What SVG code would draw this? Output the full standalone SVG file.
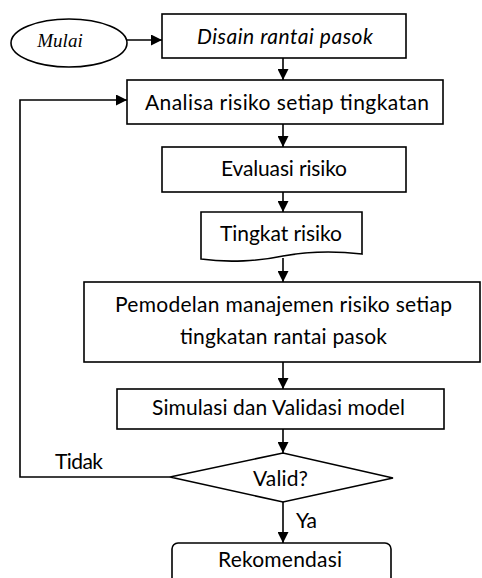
<svg xmlns="http://www.w3.org/2000/svg" width="482" height="578" viewBox="0 0 482 578">
<defs>
<marker id="ah" markerUnits="userSpaceOnUse" markerWidth="11" markerHeight="11" refX="11" refY="5.5" orient="auto">
<path d="M0,0 L11,5.5 L0,11 Z" fill="#000"/>
</marker>
<style>
.shape{fill:#fff;stroke:#000;stroke-width:1.6}
.conn{fill:none;stroke:#000;stroke-width:1.6}
.t{font-family:Lato,"Liberation Sans",sans-serif;font-size:21px;fill:#000;text-anchor:middle}
.it{font-style:italic}
.serif{font-family:"Liberation Serif",serif;font-style:italic;font-size:19px;fill:#000;text-anchor:middle}
</style>
</defs>
<rect width="482" height="578" fill="#fff"/>
<g id="connectors">
<line class="conn" x1="127" y1="40" x2="162" y2="40" marker-end="url(#ah)"/>
<line class="conn" x1="283" y1="58" x2="283" y2="80" marker-end="url(#ah)"/>
<line class="conn" x1="283" y1="124" x2="283" y2="147" marker-end="url(#ah)"/>
<line class="conn" x1="283" y1="192" x2="283" y2="212" marker-end="url(#ah)"/>
<line class="conn" x1="283" y1="258" x2="283" y2="282" marker-end="url(#ah)"/>
<line class="conn" x1="283" y1="362" x2="283" y2="389" marker-end="url(#ah)"/>
<line class="conn" x1="283" y1="429" x2="283" y2="453" marker-end="url(#ah)"/>
<line class="conn" x1="283" y1="502" x2="283" y2="543" marker-end="url(#ah)"/>
<polyline class="conn" points="170,477 20,477 20,100 127,100" marker-end="url(#ah)"/>
<text class="t" x="79" y="469" textLength="48">Tidak</text>
<text class="t" x="306.5" y="528" textLength="21">Ya</text>
</g>
<g id="mulai">
<ellipse class="shape" cx="69" cy="43" rx="58" ry="24"/>
<text class="serif" x="60" y="47">Mulai</text>
</g>
<g id="disain">
<rect class="shape" x="162" y="14" width="244" height="44"/>
<text class="t it" x="285" y="44" textLength="176">Disain rantai pasok</text>
</g>
<g id="analisa">
<rect class="shape" x="127" y="80" width="316" height="44"/>
<text class="t" x="287" y="110" textLength="284">Analisa risiko setiap tingkatan</text>
</g>
<g id="evaluasi">
<rect class="shape" x="162" y="147" width="244" height="45"/>
<text class="t" x="284" y="176" textLength="126">Evaluasi risiko</text>
</g>
<g id="tingkat">
<path class="shape" d="M201,212 H362 V254 C335,251 305,252 283,256 C260,261 228,263 201,259 Z"/>
<text class="t" x="281" y="241" textLength="122">Tingkat risiko</text>
</g>
<g id="pemodelan">
<rect class="shape" x="84" y="282" width="396" height="80"/>
<text class="t" x="283.5" y="312" textLength="337">Pemodelan manajemen risiko setiap</text>
<text class="t" x="283.5" y="344" textLength="207">tingkatan rantai pasok</text>
</g>
<g id="simulasi">
<rect class="shape" x="117" y="389" width="327" height="40"/>
<text class="t" x="278.5" y="415" textLength="253">Simulasi dan Validasi model</text>
</g>
<g id="valid">
<polygon class="shape" points="170,477 283,453 393,478 283,502"/>
<text class="t" x="280.5" y="486" textLength="55">Valid?</text>
</g>
<g id="rekomendasi">
<rect class="shape" x="172" y="543" width="219" height="50" rx="6"/>
<text class="t" x="280" y="567" textLength="124">Rekomendasi</text>
</g>
</svg>
